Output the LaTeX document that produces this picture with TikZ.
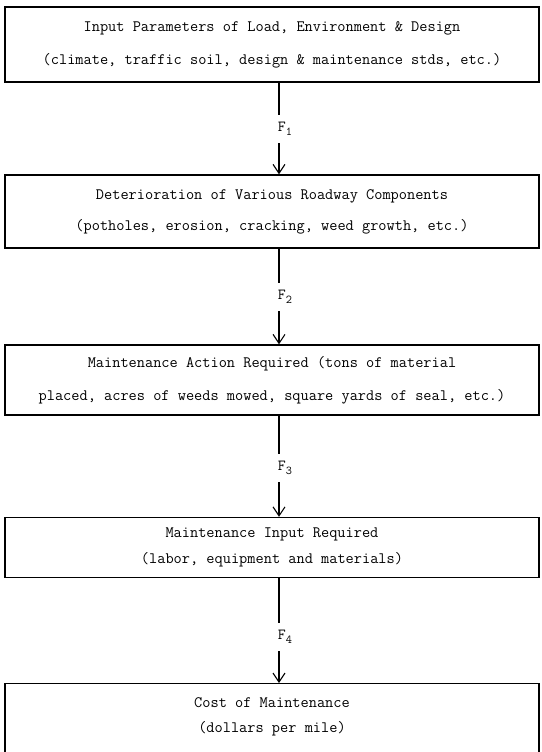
\documentclass[tikz,border=0pt]{standalone}
\usetikzlibrary{arrows.meta}
\newcommand{\fsub}[1]{F\raisebox{-4pt}{\fontsize{12}{12}\selectfont #1}}
\tikzset{
  stage/.style={draw, line width=1.3pt, minimum width=534pt, inner xsep=0pt,
    font=\ttfamily\fontsize{15.9}{18}\selectfont, align=center},
  flow/.style={line width=1.1pt, -{Straight Barb[length=9pt,width=12pt,line width=1.1pt]}},
  flabel/.style={fill=white, inner xsep=4pt, inner ysep=0pt, minimum height=28pt,
    font=\ttfamily\fontsize{15.4}{18}\selectfont, xshift=6pt}
}
\begin{document}
\begin{tikzpicture}[x=1pt,y=1pt]
  \useasboundingbox (0,0) rectangle (541,-752);
  \clip (0,0) rectangle (541,-752);

  % the five stages of the cost model
  \node[stage, minimum height=75pt] (input) at (272,-44.5)
    {Input Parameters of Load, Environment \& Design\\[15pt]
     (climate, traffic soil, design \& maintenance stds, etc.)};
  \node[stage, minimum height=73pt] (deter) at (272,-211.5)
    {Deterioration of Various Roadway Components\\[13pt]
     (potholes, erosion, cracking, weed growth, etc.)};
  \node[stage, minimum height=70pt] (action) at (272,-380)
    {Maintenance Action Required (tons of material\\[15pt]
     placed, acres of weeds mowed, square yards of seal, etc.)};
  \node[stage, minimum height=60pt] (inputreq) at (272,-547.5)
    {Maintenance Input Required\\[8pt]
     (labor, equipment and materials)};
  \node[stage, anchor=north, inner ysep=14pt] (cost) at (272,-683)
    {Cost of Maintenance\\[7pt]
     (dollars per mile)\\[30pt]\mbox{}};

  % transfer functions between stages
  \draw[flow] ([xshift=7pt]input.south) -- node[flabel, pos=0.5] {\fsub{1}} ([xshift=7pt]deter.north);
  \draw[flow] ([xshift=7pt]deter.south) -- node[flabel, pos=0.5] {\fsub{2}} ([xshift=7pt]action.north);
  \draw[flow] ([xshift=7pt]action.south) -- node[flabel, pos=0.52] {\fsub{3}} ([xshift=7pt]inputreq.north);
  \draw[flow] ([xshift=7pt]inputreq.south) -- node[flabel, pos=0.56] {\fsub{4}} ([xshift=7pt]cost.north);
\end{tikzpicture}
\end{document}
